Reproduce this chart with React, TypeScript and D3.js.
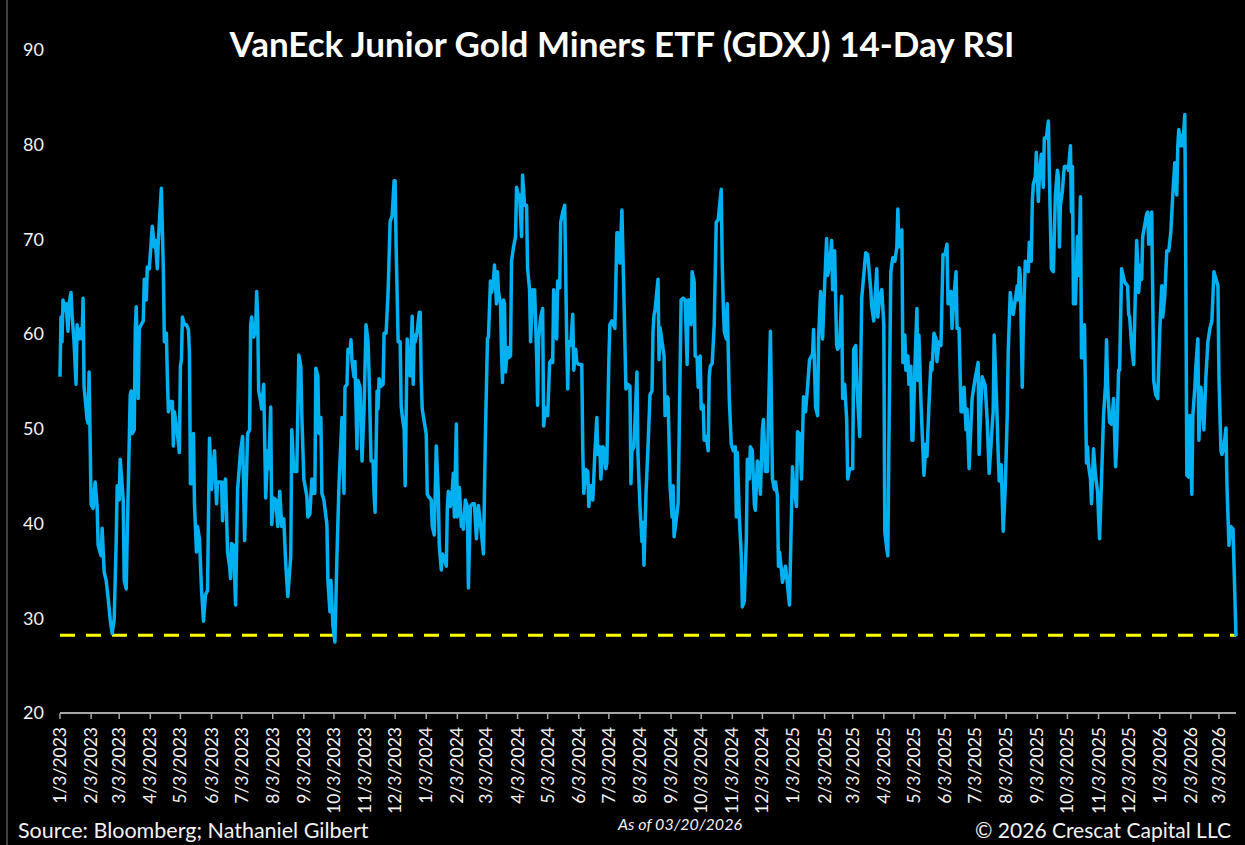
import React from "react";
import * as d3 from "d3";

const title = "VanEck Junior Gold Miners ETF (GDXJ) 14-Day RSI";
const sourceNote = "Source: Bloomberg; Nathaniel Gilbert";
const asOfNote = "As of 03/20/2026";
const copyrightNote = "© 2026 Crescat Capital LLC";

const startDate = new Date(2023, 0, 3);
const endDate = new Date(2026, 2, 20);
const yTicks = [20, 30, 40, 50, 60, 70, 80, 90];
const oversoldLevel = 28.2;

// [days after 1/3/2023, RSI]
const rsi2023: [number, number][] = [
  [0,55.5],[1,61.8],[2,59.2],[3,63.6],[5,62.5],[6,63.2],[8,60.3],[9,63.2],[11,64.4],[12,62.1],[14,59.2],[16,54.7],[17,61.0],[19,59.5],[21,60.6],[22,59.5],[23,63.8],[24,54.4],[27,51.0],[28,50.6],[29,56.0],[31,42.0],[33,41.6],[35,44.4],[37,41.8],[38,37.7],[41,36.6],[42,39.5],[44,34.9],[46,34.0],[48,32.1],[50,29.9],[52,28.4],[54,29.9],[56,38.1],[57,44.0],[59,42.5],[60,46.8],[63,42.5],[64,34.0],[66,33.1],[67,38.8],[70,53.6],[71,54.0],[72,49.5],[74,49.9],[75,60.3],[76,62.9],[78,53.2],[79,60.6],[81,61.0],[83,61.4],[84,65.8],[86,63.6],[87,67.1],[89,66.9],[90,68.4],[92,71.4],[94,69.2],[95,69.9],[97,66.9],[98,69.9],[101,75.4],[103,66.8],[104,59.2],[106,60.1],[107,55.5],[108,51.8],[110,52.9],[112,52.9],[113,48.2],[114,51.8],
  [117,49.5],[119,47.5],[120,56.6],[121,57.3],[122,61.8],[124,61.0],[126,61.0],[128,60.5],[129,58.1],[130,44.2],[131,44.2],[133,49.5],[134,42.1],[136,37.0],[137,39.7],[139,38.4],[141,33.1],[143,29.7],[145,32.5],[147,32.9],[149,49.0],[151,43.6],[152,45.3],[154,47.7],[156,42.1],[157,44.4],[161,44.4],[162,40.3],[163,44.0],[165,44.7],[167,37.0],[169,35.5],[170,34.2],[171,37.9],[173,37.7],[175,31.4],[177,43.6],[180,47.7],[182,49.2],[184,38.2],[187,49.5],[189,49.9],[190,61.0],[191,61.8],[193,59.7],[195,60.6],[196,64.5],[197,61.8],[198,54.0],[200,52.9],[201,52.1],[203,54.7],[205,42.7],[207,47.7],[208,45.8],[210,52.3],[211,39.9],[213,42.7],[215,42.5],[217,39.7],[219,43.4],[221,39.7],[223,40.5],[225,35.7],[227,32.3],[230,36.6],[231,49.9],[233,45.6],
  [234,45.5],[236,45.5],[238,57.8],[240,56.6],[241,51.4],[243,44.7],[246,42.9],[247,40.7],[249,41.0],[251,44.7],[252,43.2],[254,43.2],[255,56.4],[257,55.5],[258,49.5],[260,51.2],[261,43.2],[263,42.5],[266,39.9],[267,34.0],[269,30.7],[270,34.0],[272,29.2],[274,27.5],[276,36.6],[278,44.0],[281,51.2],[283,43.2],[284,54.4],[286,54.7],[287,58.4],[289,58.1],[290,59.4],[291,57.1],[293,55.5],[294,57.1],[296,47.9],[297,55.1],[299,54.4],[301,46.6],[303,52.1],[305,61.0],[307,59.2],[308,55.8],[310,46.6],[312,46.6],[313,43.1],[314,41.2],[316,54.0],[317,52.1],[318,55.3],[320,54.5],[322,54.7],[323,60.1],[325,60.1],[327,64.5],[329,71.9],[331,72.5],[333,76.2],[334,76.2],[335,69.2],[337,59.2],[339,59.2],[340,52.5],[341,51.4],[343,49.9],[344,44.0],[346,59.5],[347,57.1],[349,55.6],[351,61.9],[352,54.7],[353,59.9],
  [354,59.2],[356,60.3],[358,62.3],[359,62.3],[360,55.1],[361,52.1],
];

const rsi2024: [number, number][] = [
  [365,49.4],[366,43.1],[367,42.9],[370,42.5],[371,39.7],[373,38.8],[375,48.2],[377,43.2],[378,37.7],[380,35.1],[381,36.8],[383,36.4],[385,35.5],[386,41.6],[387,43.4],[389,41.8],[391,43.6],[392,45.3],[393,40.7],[395,50.5],[396,40.7],[398,43.8],[400,39.7],[401,40.7],[402,39.4],[404,42.5],[406,41.8],[407,33.2],[409,41.8],[411,42.1],[413,42.1],[415,38.4],[417,41.9],[420,39.0],[422,36.8],[424,49.5],[426,59.5],[427,59.7],[429,65.6],[430,64.4],[432,65.6],[433,67.3],[435,63.2],[436,66.6],[437,64.5],[439,63.2],[440,58.1],[441,54.9],[442,63.6],[443,63.2],[444,56.0],[446,58.6],[447,57.5],[449,57.7],[450,67.7],[452,69.2],[454,70.3],[455,75.5],[457,74.6],[458,74.7],[460,70.3],[461,76.8],[463,73.6],[465,73.6],[466,66.9],[468,64.7],[469,59.2],[471,64.7],[472,62.5],
  [473,64.7],[475,57.7],[476,52.5],[477,59.5],[479,61.8],[481,62.7],[482,50.3],[484,52.2],[486,51.4],[488,57.0],[490,57.3],[491,57.0],[492,64.7],[494,61.0],[495,59.5],[496,65.6],[498,64.9],[499,71.8],[501,72.9],[503,73.6],[505,59.2],[506,54.2],[507,59.2],[509,58.8],[511,62.1],[512,56.2],[514,58.4],[515,57.0],[517,56.8],[520,56.8],[521,47.7],[522,43.2],[524,45.7],[526,45.5],[527,41.8],[529,44.0],[530,44.0],[531,42.5],[533,47.3],[535,51.2],[536,47.3],[538,48.1],[539,44.7],[541,48.1],[542,47.9],[544,45.8],[545,46.4],[547,57.3],[548,61.0],[550,61.4],[553,60.6],[555,70.7],[556,70.7],[558,67.5],[560,73.1],[562,64.0],[564,54.2],[566,54.7],[568,54.5],[569,44.2],[570,47.7],[572,48.1],[575,56.0],[576,47.3],[578,41.8],[580,38.1],[581,40.1],[582,35.6],[584,43.2],[586,48.1],[588,53.6],[590,54.0],[591,60.3],[592,62.0],
  [593,62.5],[596,65.8],[597,57.3],[598,60.7],[600,59.2],[602,57.7],[603,51.4],[605,53.4],[606,53.2],[608,44.0],[610,40.7],[611,44.0],[612,38.6],[614,40.3],[616,42.1],[617,48.8],[619,63.6],[621,63.8],[623,63.6],[625,56.8],[626,63.6],[628,63.6],[629,61.0],[630,66.6],[632,65.5],[633,57.7],[635,57.5],[636,54.4],[638,57.7],[639,52.1],[641,52.5],[642,48.8],[644,49.2],[646,47.7],[647,55.5],[648,56.6],[650,56.9],[652,61.0],[654,71.8],[656,72.1],[659,75.3],[660,67.3],[661,63.2],[662,60.3],[664,59.5],[665,63.2],[667,53.2],[669,48.4],[671,47.7],[673,48.1],[674,40.7],[675,47.5],[677,40.7],[679,36.6],[680,31.2],[682,31.8],[684,38.4],[685,46.8],[687,44.7],[688,48.1],[690,47.7],[692,42.0],[693,41.4],[695,46.6],[696,46.4],[698,43.1],[700,49.9],[701,51.0],[703,45.5],[705,45.5],[706,51.0],[708,60.3],[710,44.7],[712,43.6],
  [713,44.4],[715,42.9],[716,35.5],[717,37.0],[719,35.1],[720,33.8],[723,35.5],[725,33.6],[727,31.4],[730,46.0],
];

const rsi2025: [number, number][] = [
  [731,44.2],[734,41.8],[735,49.7],[737,49.5],[739,44.7],[741,53.4],[743,51.8],[745,54.4],[747,57.3],[750,57.9],[751,60.5],[753,52.3],[755,51.4],[756,59.5],[758,64.5],[760,59.5],[761,62.5],[764,70.1],[765,66.2],[767,67.3],[769,69.9],[770,64.7],[772,68.8],[774,58.8],[775,58.4],[777,58.8],[779,64.0],[780,53.2],[782,54.7],[784,51.0],[785,44.7],[787,45.8],[790,45.8],[791,58.4],[793,58.8],[794,55.1],[797,49.2],[799,63.8],[803,68.6],[805,68.4],[808,64.7],[809,62.9],[811,61.4],[812,63.2],[814,66.9],[815,61.8],[817,64.0],[819,64.7],[821,61.0],[822,39.2],[824,37.3],[825,36.6],[826,47.7],[828,66.6],[830,68.1],
  [832,67.7],[834,69.2],[835,73.2],[836,69.2],[838,70.7],[839,71.0],[840,57.0],[842,59.9],[843,56.2],[845,57.7],[846,54.7],[848,56.6],[849,48.8],[850,48.8],[852,56.6],[854,62.7],[855,55.1],[856,59.9],[858,52.9],[860,47.7],[861,45.1],[863,48.4],[864,47.1],[866,52.5],[868,57.0],[869,56.2],[871,60.1],[873,59.5],[874,57.1],[876,59.2],[878,58.8],[880,68.4],[882,68.4],[884,69.5],[885,63.2],[886,63.2],[888,64.5],[889,60.6],[891,64.0],[893,66.6],[894,60.6],[896,60.6],[898,51.8],[900,51.8],[901,54.4],[903,49.9],[904,52.1],[906,45.8],[909,53.2],[912,55.3],[915,57.0],[916,47.3],[918,53.1],[919,55.5],[922,54.6],[924,51.0],[926,45.3],[929,50.3],[930,51.8],[931,59.9],[934,51.0],[935,47.3],[936,44.5],[938,46.2],[940,39.2],[942,43.6],[944,51.4],[945,58.1],[947,64.4],[949,62.5],[950,62.1],
  [954,65.1],[955,63.6],[956,67.0],[957,66.2],[959,54.4],[960,60.6],[962,67.7],[965,66.6],[966,69.7],[968,67.7],[969,74.0],[970,75.8],[972,76.6],[973,79.2],[975,74.0],[976,76.6],[978,79.0],[980,75.5],[981,80.7],[983,80.7],[985,82.5],[986,76.9],[988,66.9],[990,66.6],[992,74.7],[994,77.3],[995,76.6],[996,69.2],[997,73.6],[999,75.1],[1000,76.6],[1001,77.7],[1004,77.7],[1005,77.3],[1007,79.9],[1008,72.9],[1009,77.7],[1010,63.2],[1012,63.2],[1014,70.3],[1015,66.2],[1017,74.5],[1018,57.5],[1020,57.5],[1021,61.0],[1023,46.4],[1024,48.1],[1025,46.2],[1027,44.7],[1028,42.1],[1029,44.7],[1030,47.9],[1032,45.1],[1034,43.4],[1036,38.4],[1038,44.7],[1040,51.4],[1042,54.7],[1043,59.4],[1044,54.7],[1046,50.7],[1048,50.5],[1050,53.2],[1052,46.0],[1053,48.1],[1055,56.2],[1056,56.2],[1058,66.9],[1061,65.5],
  [1064,65.1],[1065,62.1],[1066,61.8],[1068,58.8],[1070,56.8],[1073,69.9],[1074,67.7],[1075,64.4],[1077,67.3],[1078,65.8],[1079,70.3],[1083,72.7],[1084,72.9],[1085,69.5],[1088,72.9],[1090,55.1],[1092,53.6],[1094,53.2],
];

const rsi2026: [number, number][] = [
  [1096,60.3],[1098,65.1],[1099,61.8],[1101,64.0],[1103,68.8],[1105,68.8],[1107,70.7],[1109,74.7],[1111,78.1],[1113,74.7],[1114,79.9],[1115,81.6],[1117,79.9],[1118,81.0],[1119,79.9],[1121,83.2],[1122,66.2],[1123,45.1],[1125,44.9],[1126,51.4],[1128,43.1],[1129,51.4],[1131,54.4],[1132,56.6],[1134,59.5],[1135,48.8],[1137,54.4],[1139,51.8],[1140,49.9],[1142,55.5],[1144,59.2],[1146,60.6],[1148,61.4],[1150,66.6],[1151,66.2],[1154,65.1],[1155,55.5],[1157,47.7],[1158,47.3],[1160,48.1],[1162,50.1],[1163,44.0],[1165,37.7],[1167,39.7],[1169,39.4],[1172,28.1],
];

const FONT = "Lato, 'Open Sans', sans-serif";

export default function App() {
  const width = 1245;
  const height = 845;

  const x = d3.scaleTime().domain([startDate, endDate]).range([60, 1236]);
  const y = d3.scaleLinear().domain([20, 90]).range([713, 50]);

  const points = [...rsi2023, ...rsi2024, ...rsi2025, ...rsi2026].map(([d, v]) => ({
    date: d3.timeDay.offset(startDate, d),
    value: v,
  }));

  const line = d3
    .line<{ date: Date; value: number }>()
    .x((d) => x(d.date))
    .y((d) => y(d.value));

  // monthly ticks on the 3rd
  const monthTicks = d3.timeMonth
    .range(new Date(2023, 0, 1), new Date(2026, 2, 2))
    .map((m) => d3.timeDay.offset(m, 2));
  const fmt = d3.timeFormat("%-m/%-d/%Y");

  const [x0, x1] = x.range();
  const axisY = y(20);

  return (
    <svg
      width={width}
      height={height}
      style={{ position: "absolute", left: 0, top: 0, background: "#000" }}
    >
      <rect width={width} height={height} fill="#000" />
      <line x1={7} x2={7} y1={0} y2={height} stroke="#7f7f7f" strokeWidth={1} />

      <text
        x={622}
        y={57}
        textAnchor="middle"
        fill="#fff"
        fontFamily={FONT}
        fontWeight={700}
        fontSize={35}
      >
        {title}
      </text>

      {yTicks.map((t) => (
        <text
          key={t}
          x={44}
          y={y(t)}
          dy="0.35em"
          textAnchor="end"
          fill="#f2f2f2"
          fontFamily={FONT}
          fontSize={18}
        >
          {t}
        </text>
      ))}

      <line x1={x0} x2={x1} y1={axisY} y2={axisY} stroke="#a6a6a6" strokeWidth={2} />
      {monthTicks.map((t) => (
        <g key={+t} transform={`translate(${x(t)},${axisY})`}>
          <line y1={0} y2={6} stroke="#a6a6a6" strokeWidth={1.5} />
          <text
            transform="translate(6,14) rotate(-90)"
            textAnchor="end"
            fill="#f2f2f2"
            fontFamily={FONT}
            fontSize={17.5}
          >
            {fmt(t)}
          </text>
        </g>
      ))}

      <line
        x1={x0}
        x2={x1}
        y1={y(oversoldLevel)}
        y2={y(oversoldLevel)}
        stroke="#ffff00"
        strokeWidth={3}
        strokeDasharray="15 11"
      />

      <path
        d={line(points) ?? ""}
        fill="none"
        stroke="#00b0f0"
        strokeWidth={3.5}
        strokeLinejoin="round"
      />

      <text x={18} y={838} fill="#f2f2f2" fontFamily={FONT} fontSize={21.5}>
        {sourceNote}
      </text>
      <text
        x={680}
        y={830}
        textAnchor="middle"
        fill="#f2f2f2"
        fontFamily={FONT}
        fontStyle="italic"
        fontSize={16}
      >
        {asOfNote}
      </text>
      <text
        x={1231}
        y={838}
        textAnchor="end"
        fill="#f2f2f2"
        fontFamily={FONT}
        fontSize={21}
      >
        {copyrightNote}
      </text>
    </svg>
  );
}
